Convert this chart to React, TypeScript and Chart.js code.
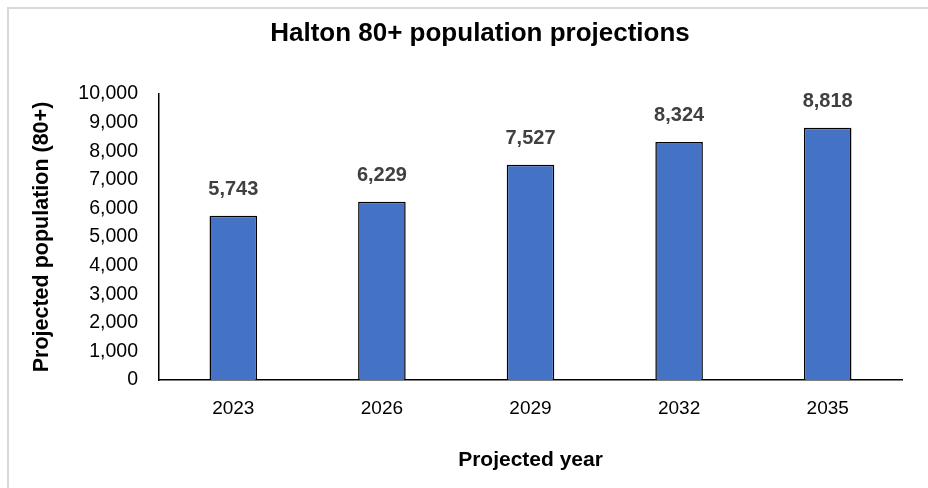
import React, { useEffect, useRef } from "react";
import { Chart, registerables } from "chart.js";

Chart.register(...registerables);

const years = ["2023", "2026", "2029", "2032", "2035"];
const population = [5743, 6229, 7527, 8324, 8818];
const yMin = 0;
const yMax = 10000;
const yStep = 1000;
const chartTitle = "Halton 80+ population projections";
const xTitle = "Projected year";
const yTitle = "Projected population (80+)";

const FONT = "'Liberation Sans', Arial, sans-serif";
const fmt = (v: number) => v.toLocaleString("en-US");

const decorPlugin = {
  id: "decor",
  beforeDraw(chart: any) {
    const { ctx, width, height } = chart;
    ctx.save();
    ctx.fillStyle = "#ffffff";
    ctx.fillRect(0, 0, width, height);
    ctx.fillStyle = "#d9d9d9";
    ctx.fillRect(7, 7, width - 7, 2);
    ctx.fillRect(7, 7, 2, height - 7);
    ctx.restore();
  },
  afterDatasetsDraw(chart: any) {
    const { ctx } = chart;
    const meta = chart.getDatasetMeta(0);
    const data = chart.data.datasets[0].data as number[];
    ctx.save();
    ctx.fillStyle = "#404040";
    ctx.font = `bold 20px ${FONT}`;
    ctx.textAlign = "center";
    ctx.textBaseline = "middle";
    meta.data.forEach((bar: any, i: number) => {
      ctx.fillText(fmt(data[i]), bar.x, bar.y - 26);
    });
    ctx.restore();
  },
  afterDraw(chart: any) {
    const { ctx } = chart;
    ctx.save();
    ctx.fillStyle = "#000000";
    ctx.font = `bold 26px ${FONT}`;
    ctx.textAlign = "center";
    ctx.textBaseline = "middle";
    ctx.fillText(chartTitle, 480, 34);
    ctx.restore();
  },
};

export default function App() {
  const ref = useRef<HTMLCanvasElement | null>(null);

  useEffect(() => {
    if (!ref.current) return;
    const chart = new Chart(ref.current, {
      type: "bar",
      data: {
        labels: years,
        datasets: [
          {
            data: population,
            backgroundColor: "#4472C4",
            borderColor: "#000000",
            borderWidth: 1.5,
            categoryPercentage: 1,
            barPercentage: 0.32,
          },
        ],
      },
      options: {
        responsive: false,
        animation: false,
        devicePixelRatio: 1,
        layout: { padding: { top: 94, right: 26, left: 0, bottom: 0 } },
        plugins: {
          legend: { display: false },
          tooltip: { enabled: false },
          title: { display: false },
        },
        scales: {
          x: {
            grid: { display: false, drawTicks: false },
            border: { display: true, color: "#000000", width: 1.5 },
            ticks: {
              color: "#000000",
              padding: 17,
              autoSkip: false,
              maxRotation: 0,
              font: { family: FONT, size: 19 },
            },
            title: {
              display: true,
              text: xTitle,
              color: "#000000",
              font: { family: FONT, size: 21, weight: "bold" },
              padding: { top: 0, bottom: 15 },
            },
            afterFit(scale: any) {
              scale.height = 108;
            },
          },
          y: {
            min: yMin,
            max: yMax,
            grid: { display: false, drawTicks: false },
            border: { display: true, color: "#000000", width: 1.5 },
            ticks: {
              stepSize: yStep,
              color: "#000000",
              padding: 21,
              autoSkip: false,
              font: { family: FONT, size: 19.5 },
              callback: (v: any) => fmt(Number(v)),
            },
            title: {
              display: true,
              text: yTitle,
              color: "#000000",
              font: { family: FONT, size: 21.5, weight: "bold" },
              padding: { top: 29, bottom: 0 },
            },
            afterFit(scale: any) {
              scale.width = 159;
            },
          },
        },
      },
      plugins: [decorPlugin],
    });
    return () => chart.destroy();
  }, []);

  return (
    <div style={{ position: "absolute", left: 0, top: 0, width: 928, height: 488 }}>
      <canvas ref={ref} width={928} height={488} style={{ width: 928, height: 488 }} />
    </div>
  );
}
